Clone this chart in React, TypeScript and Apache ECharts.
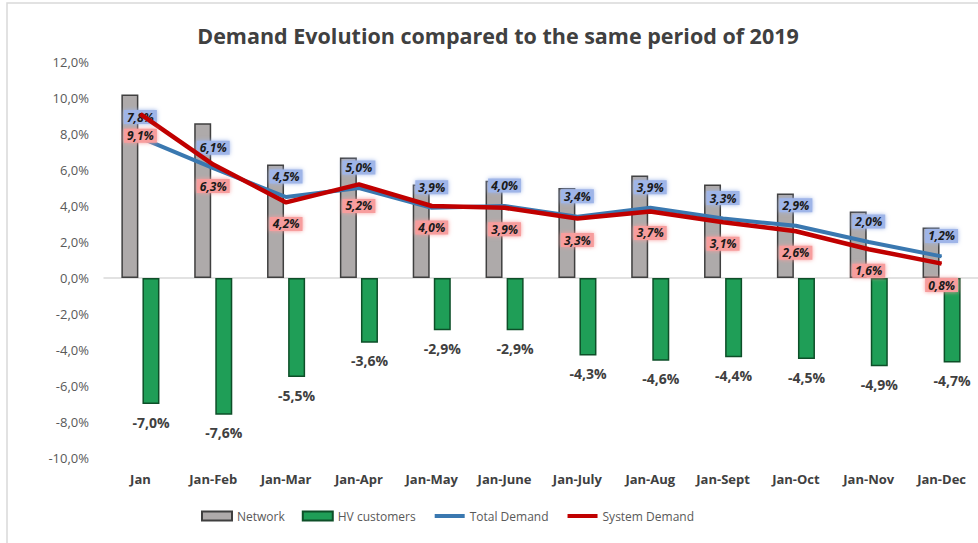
import React, { useEffect, useRef } from "react";
import * as echarts from "echarts";

const categories = ["Jan", "Jan-Feb", "Jan-Mar", "Jan-Apr", "Jan-May", "Jan-June", "Jan-July", "Jan-Aug", "Jan-Sept", "Jan-Oct", "Jan-Nov", "Jan-Dec"];
const network = [10.2, 8.6, 6.3, 6.7, 5.2, 5.4, 5.0, 5.7, 5.2, 4.7, 3.7, 2.8];
const hvCustomers = [-7.0, -7.6, -5.5, -3.6, -2.9, -2.9, -4.3, -4.6, -4.4, -4.5, -4.9, -4.7];
const totalDemand = [7.8, 6.1, 4.5, 5.0, 3.9, 4.0, 3.4, 3.9, 3.3, 2.9, 2.0, 1.2];
const systemDemand = [9.1, 6.3, 4.2, 5.2, 4.0, 3.9, 3.3, 3.7, 3.1, 2.6, 1.6, 0.8];

const fmt = (v: number) => v.toFixed(1).replace(".", ",") + "%";
const FONT = "'Open Sans', 'Noto Sans', sans-serif";

export default function App() {
  const ref = useRef<HTMLDivElement>(null);
  useEffect(() => {
    if (!ref.current) return;
    const chart = echarts.init(ref.current, null, { renderer: "svg" });
    chart.setOption({
      animation: false,
      backgroundColor: "#ffffff",
      textStyle: { fontFamily: FONT },
      title: {
        text: "Demand Evolution compared to the same period of 2019",
        left: 498,
        textAlign: "center",
        top: 22,
        padding: 0,
        textStyle: { fontFamily: FONT, fontSize: 21.5, fontWeight: "bold", color: "#404040", lineHeight: 26 },
      },
      graphic: [
        {
          type: "rect",
          shape: { x: 7, y: 3, width: 1100, height: 700 },
          style: { fill: "none", stroke: "#d9d9d9", lineWidth: 1.5 },
          silent: true,
          z: -1,
        },
      ],
      legend: {
        left: 196,
        top: 505,
        itemGap: 17,
        itemWidth: 30,
        itemHeight: 9,
        textStyle: { fontFamily: FONT, fontSize: 12, color: "#595959" },
        data: [
          { name: "Network", icon: "rect" },
          { name: "HV customers", icon: "rect" },
          { name: "Total Demand", itemStyle: { opacity: 0 }, lineStyle: { width: 4 } },
          { name: "System Demand", itemStyle: { opacity: 0 }, lineStyle: { width: 4 } },
        ],
      },
      grid: { left: 104, top: 62, height: 396, right: -8 },
      xAxis: [
        {
          type: "category",
          data: categories,
          axisLine: { show: true, onZero: true, lineStyle: { color: "#d9d9d9", width: 1.5 } },
          axisTick: { show: false },
          axisLabel: { show: false },
        },
        {
          type: "category",
          data: categories,
          position: "bottom",
          axisLine: { show: false, onZero: false },
          axisTick: { show: false },
          axisLabel: { show: true, margin: 14, fontFamily: FONT, fontSize: 13, fontWeight: "bold", color: "#404040" },
        },
      ],
      yAxis: {
        type: "value",
        min: -10,
        max: 12,
        interval: 2,
        axisLine: { show: false },
        axisTick: { show: false },
        splitLine: { show: false },
        axisLabel: { margin: 15, fontFamily: FONT, fontSize: 13, color: "#595959", formatter: (v: number) => fmt(v) },
      },
      series: [
        {
          name: "Network",
          type: "bar",
          data: network,
          barWidth: 17,
          barGap: "24%",
          itemStyle: { color: "#aeaaaa", borderColor: "#3f3f3f", borderWidth: 1.5 },
        },
        {
          name: "HV customers",
          type: "bar",
          data: hvCustomers,
          barWidth: 17,
          itemStyle: { color: "#1f9e57", borderColor: "#0d4f28", borderWidth: 1.5 },
          label: {
            show: true,
            position: "bottom",
            distance: 11,
            fontFamily: FONT,
            fontSize: 14,
            fontWeight: "bold",
            color: "#404040",
            formatter: (p: any) => fmt(p.value),
          },
        },
        {
          name: "Total Demand",
          type: "line",
          data: totalDemand,
          symbol: "circle",
          symbolSize: 1,
          itemStyle: { color: "#3a78b0" },
          lineStyle: { color: "#3a78b0", width: 4 },
          label: {
            show: true,
            position: "top",
            distance: 13,
            fontFamily: FONT,
            fontSize: 12,
            lineHeight: 14,
            fontWeight: "bold",
            fontStyle: "italic",
            color: "#1a1a1a",
            backgroundColor: "#9fb5e8",
            padding: [0, 3, 0, 3],
            shadowColor: "#9fb5e8",
            shadowBlur: 4,
            formatter: (p: any) => fmt(p.value),
          },
          z: 3,
        },
        {
          name: "System Demand",
          type: "line",
          data: systemDemand,
          symbol: "circle",
          symbolSize: 1,
          itemStyle: { color: "#c00000" },
          lineStyle: { color: "#c00000", width: 4.5 },
          label: {
            show: true,
            position: "bottom",
            distance: 14,
            fontFamily: FONT,
            fontSize: 12,
            lineHeight: 14,
            fontWeight: "bold",
            fontStyle: "italic",
            color: "#1a1a1a",
            backgroundColor: "#f79d9d",
            padding: [0, 3, 0, 3],
            shadowColor: "#f79d9d",
            shadowBlur: 4,
            formatter: (p: any) => fmt(p.value),
          },
          z: 4,
        },
      ],
    });
    return () => chart.dispose();
  }, []);
  return <div ref={ref} style={{ position: "absolute", left: 0, top: 0, width: 978, height: 543, overflow: "hidden" }} />;
}
